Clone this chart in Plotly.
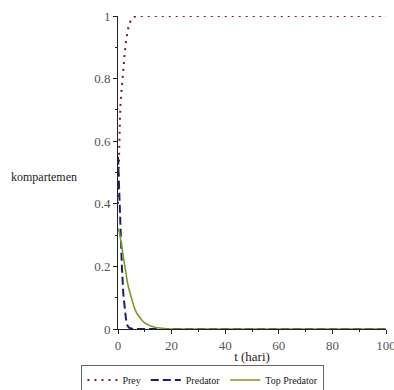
import plotly.graph_objects as go

# Time points (days)
t = [0, 0.25, 0.5, 0.75, 1, 1.5, 2, 2.5, 3, 3.5, 4, 5, 6, 7, 8, 9, 10, 12, 14, 16, 18, 20,
     30, 40, 50, 60, 70, 80, 90, 100]

prey = [0.40, 0.52, 0.61, 0.68, 0.73, 0.79, 0.84, 0.88, 0.92, 0.95, 0.97, 0.99, 0.997, 1.0,
        1.0, 1.0, 1.0, 1.0, 1.0, 1.0, 1.0, 1.0, 1.0, 1.0, 1.0, 1.0, 1.0, 1.0, 1.0, 1.0]

predator = [0.55, 0.48, 0.42, 0.36, 0.30, 0.19, 0.11, 0.06, 0.03, 0.012, 0.005, 0.001, 0.0,
            0.0, 0.0, 0.0, 0.0, 0.0, 0.0, 0.0, 0.0, 0.0, 0.0, 0.0, 0.0, 0.0, 0.0, 0.0, 0.0, 0.0]

top_predator = [0.32, 0.318, 0.31, 0.30, 0.29, 0.26, 0.23, 0.20, 0.175, 0.15, 0.13, 0.095,
                0.07, 0.05, 0.037, 0.027, 0.019, 0.01, 0.005, 0.002, 0.001, 0.0,
                0.0, 0.0, 0.0, 0.0, 0.0, 0.0, 0.0, 0.0]

series_names = ["Prey", "Predator", "Top Predator"]

serif = "Liberation Serif"

fig = go.Figure()
fig.add_trace(go.Scatter(x=t, y=prey, name=series_names[0], mode="lines",
                         line=dict(color="#7a1a2a", width=2, dash="2px,5px")))
fig.add_trace(go.Scatter(x=t, y=predator, name=series_names[1], mode="lines",
                         line=dict(color="#1c1f6e", width=2, dash="8px,4px")))
fig.add_trace(go.Scatter(x=t, y=top_predator, name=series_names[2], mode="lines",
                         line=dict(color="#7a9a2e", width=1.6)))

axis_common = dict(
    showgrid=False, zeroline=False, showline=True, linecolor="#222", linewidth=1,
    ticks="outside", ticklen=4, tickcolor="#222", tickwidth=1,
    tickfont=dict(family=serif, size=13, color="#555"),
    ticklabeloverflow="allow", automargin=False,
)

fig.update_xaxes(range=[0, 100], dtick=20, tick0=0, ticklabelstandoff=0,
                 minor=dict(dtick=10, ticks="outside", ticklen=2, tickcolor="#222"),
                 title=dict(text="t (hari)", font=dict(family=serif, size=13, color="#222"),
                            standoff=0),
                 **axis_common)
fig.update_yaxes(range=[0, 1], dtick=0.2, tick0=0, tickformat="~g",
                 minor=dict(dtick=0.1, ticks="outside", ticklen=2, tickcolor="#222"),
                 **axis_common)

fig.add_annotation(text="kompartemen", xref="paper", yref="paper", x=-0.145, y=0.485,
                   xanchor="right", yanchor="middle", showarrow=False,
                   font=dict(family=serif, size=12, color="#222"))

fig.update_layout(
    width=394, height=390,
    margin=dict(l=118, r=8, t=16, b=61, autoexpand=False),
    font=dict(family=serif),
    paper_bgcolor="white", plot_bgcolor="white",
    showlegend=True,
    legend=dict(orientation="h", x=0.317, xanchor="center", y=-0.163, yanchor="middle",
                bordercolor="#666", borderwidth=1, bgcolor="white",
                font=dict(family=serif, size=10, color="#222"),
                itemwidth=30, tracegroupgap=0),
)

fig.write_html("out.html")
